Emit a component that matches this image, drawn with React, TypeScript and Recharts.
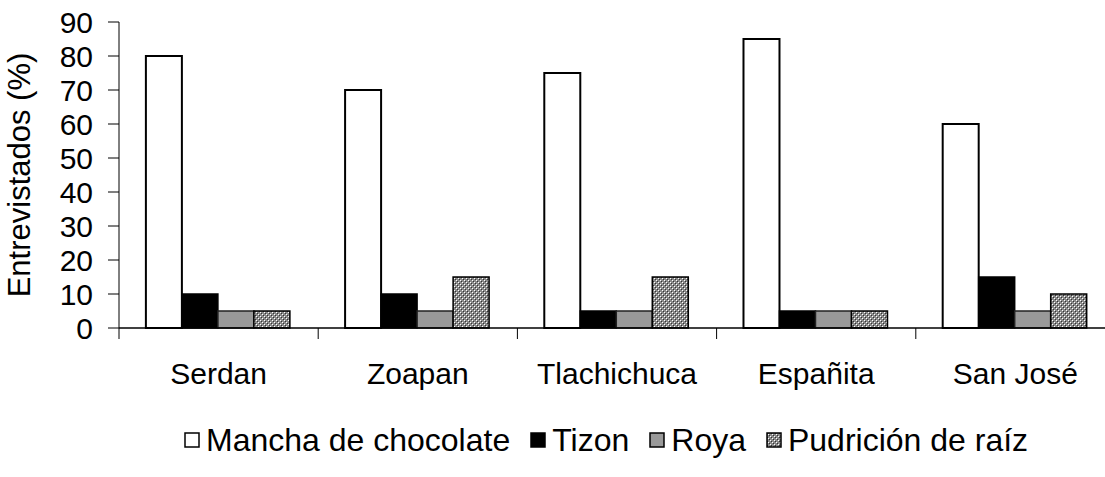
import { BarChart, Bar, XAxis, YAxis } from 'recharts';

const categories = ['Serdan', 'Zoapan', 'Tlachichuca', 'Españita', 'San José'];
const mancha = [80, 70, 75, 85, 60];
const tizon = [10, 10, 5, 5, 15];
const roya = [5, 5, 5, 5, 5];
const pudricion = [5, 15, 15, 5, 10];
const yTicks = [0, 10, 20, 30, 40, 50, 60, 70, 80, 90];

const data = categories.map((name, i) => ({
  name,
  mancha: mancha[i],
  tizon: tizon[i],
  roya: roya[i],
  pudricion: pudricion[i],
}));

const FONT = '"Liberation Sans", Arial, sans-serif';

const legendItems = [
  { label: 'Mancha de chocolate', fill: '#ffffff' },
  { label: 'Tizon', fill: '#000000' },
  { label: 'Roya', fill: '#999999' },
  { label: 'Pudrición de raíz', fill: 'url(#dotsLegend)' },
];

function CatTick(props: any) {
  const { x, y, payload } = props;
  const half = payload && payload.offset ? payload.offset : 99.5;
  return (
    <g>
      <line x1={x - half} x2={x - half} y1={y - 8} y2={y + 3} stroke="#000" strokeWidth={1} />
      <text x={x} y={y + 48} textAnchor="middle" fontSize={30} fontFamily={FONT} fill="#000">
        {payload.value}
      </text>
    </g>
  );
}

function DotsPattern({ id }: { id: string }) {
  return (
    <pattern id={id} width={4} height={4} patternUnits="userSpaceOnUse">
      <rect width={4} height={4} fill="#8a8a8a" />
      <rect x={0} y={0} width={1} height={1} fill="#ffffff" />
      <rect x={2} y={2} width={1} height={1} fill="#ffffff" />
      <rect x={1} y={1} width={1} height={1} fill="#333333" />
      <rect x={3} y={3} width={1} height={1} fill="#333333" />
    </pattern>
  );
}

export default function App() {
  return (
    <div
      style={{
        position: 'absolute',
        left: 0,
        top: 0,
        width: 1105,
        height: 477,
        overflow: 'hidden',
        background: '#fff',
        fontFamily: FONT,
      }}
    >
      <BarChart
        width={1115}
        height={477}
        data={data}
        margin={{ top: 22, right: 0, left: 0, bottom: 89 }}
        barCategoryGap="13.5%"
        barGap={0}
      >
        <defs>
          <DotsPattern id="dots" />
        </defs>
        <XAxis
          dataKey="name"
          height={60}
          axisLine={{ stroke: '#000', strokeWidth: 1.5 }}
          tickLine={false}
          tick={<CatTick />}
          interval={0}
        />
        <YAxis
          width={119}
          domain={[0, 90]}
          ticks={yTicks}
          interval={0}
          axisLine={{ stroke: '#000', strokeWidth: 1 }}
          tickLine={{ stroke: '#000' }}
          tickSize={11}
          tickMargin={15}
          tick={{ fontSize: 30, fontFamily: FONT, fill: '#000' }}
          label={{
            value: 'Entrevistados (%)',
            angle: -90,
            position: 'insideLeft',
            dx: 14,
            dy: 0,
            style: { fontSize: 31, fontFamily: FONT, fill: '#000', textAnchor: 'middle' },
          }}
        />
        <Bar dataKey="mancha" fill="#ffffff" stroke="#000" strokeWidth={2} isAnimationActive={false} />
        <Bar dataKey="tizon" fill="#000000" stroke="#000" strokeWidth={1.5} isAnimationActive={false} />
        <Bar dataKey="roya" fill="#999999" stroke="#222" strokeWidth={1.5} isAnimationActive={false} />
        <Bar dataKey="pudricion" fill="url(#dots)" stroke="#000" strokeWidth={1.5} isAnimationActive={false} />
      </BarChart>
      <div
        style={{
          position: 'absolute',
          left: 184,
          top: 421,
          height: 38,
          display: 'flex',
          alignItems: 'center',
          fontSize: 32,
          color: '#000',
          whiteSpace: 'nowrap',
        }}
      >
        <svg width={0} height={0} style={{ position: 'absolute' }}>
          <defs>
            <DotsPattern id="dotsLegend" />
          </defs>
        </svg>
        {legendItems.map((it, i) => (
          <div key={it.label} style={{ display: 'flex', alignItems: 'center', marginRight: i < 3 ? 20 : 0 }}>
            <svg width={16} height={16} style={{ marginRight: 6 }}>
              <rect x={1} y={1} width={14} height={14} fill={it.fill} stroke="#000" strokeWidth={1.5} />
            </svg>
            <span>{it.label}</span>
          </div>
        ))}
      </div>
    </div>
  );
}
